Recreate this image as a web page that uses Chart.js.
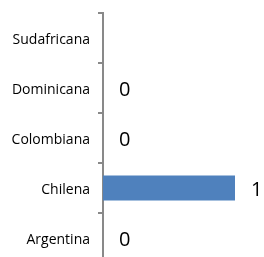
<!DOCTYPE html>
<html>
<head>
<meta charset="utf-8">
<script src="https://cdn.jsdelivr.net/npm/chart.js@4"></script>
<style>
html,body{margin:0;padding:0;background:#fff;overflow:hidden;}
#wrap{width:264px;height:264px;}
</style>
</head>
<body>
<div id="wrap"><canvas id="c" width="264" height="264"></canvas></div>
<script>
const categories = ["Sudafricana", "Dominicana", "Colombiana", "Chilena", "Argentina"];
const values = [null, 0, 0, 1, 0];
const valueLabels = ["", "0", "0", "1", "0"];

const labelPlugin = {
  id: 'valueLabels',
  afterDatasetsDraw(chart) {
    const ctx = chart.ctx;
    const meta = chart.getDatasetMeta(0);
    ctx.save();
    ctx.font = '20px "Open Sans", sans-serif';
    ctx.fillStyle = '#000';
    ctx.textAlign = 'left';
    ctx.textBaseline = 'middle';
    meta.data.forEach((el, i) => {
      if (values[i] === null || values[i] === undefined) return;
      ctx.fillText(valueLabels[i], el.x + 16, el.y + 2);
    });
    ctx.restore();
  }
};

new Chart(document.getElementById('c'), {
  type: 'bar',
  data: {
    labels: categories,
    datasets: [{
      data: values,
      backgroundColor: '#4f81bd',
      borderWidth: 0,
      barPercentage: 0.5,
      categoryPercentage: 1.0
    }]
  },
  options: {
    indexAxis: 'y',
    responsive: false,
    animation: false,
    devicePixelRatio: 1,
    layout: { padding: { top: 13, right: 29, bottom: 1, left: 0 } },
    plugins: { legend: { display: false }, tooltip: { enabled: false } },
    scales: {
      x: { display: false, min: 0, max: 1 },
      y: {
        afterFit(scale) { scale.width = 103; scale.paddingTop = 0; scale.paddingBottom = 0; },
        border: { display: true, color: '#898989', width: 2 },
        grid: { display: true, drawOnChartArea: false, drawTicks: true, tickLength: 5, color: '#898989', lineWidth: 2, offset: true },
        ticks: { color: '#000', padding: 8, labelOffset: 2, font: { family: '"Open Sans", sans-serif', size: 14 } }
      }
    }
  },
  plugins: [labelPlugin]
});
</script>
</body>
</html>
